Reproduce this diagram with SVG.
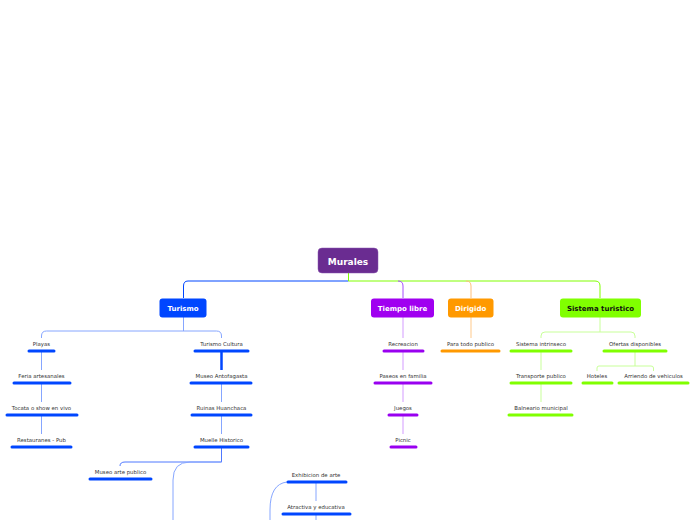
<svg xmlns="http://www.w3.org/2000/svg" width="696" height="520" viewBox="0 0 696 520">
<style>
.t{font-family:"DejaVu Sans",Verdana,sans-serif;font-size:5.4px;fill:#333;text-anchor:middle}
.m{font-family:"DejaVu Sans",Verdana,sans-serif;font-weight:bold;text-anchor:middle}
.c{fill:none;stroke-width:1}
.bar{stroke-width:3;stroke-linecap:round;fill:none}
.b{stroke:#0046ff}.p{stroke:#9900f0}.o{stroke:#ff9900}.g{stroke:#80ff00}
.lb{stroke:#86a6ff}.lp{stroke:#d39bff}.lo{stroke:#ffc98a}.lg{stroke:#c8ff99}
</style>
<rect width="696" height="520" fill="#fff"/>
<g id="connectors">
<path class="c" stroke="#0046ff" d="M348.5,281 H188 Q183.5,281 183.5,286 V298"/>
<path class="c" stroke="#80ff00" d="M348.5,273 V281 H595 Q600,281 600,286 V298"/>
<path class="c" stroke="#a64dff" d="M398,281 Q403,281 403,286 V298"/>
<path class="c" stroke="#ffc07a" d="M466,281 Q471,281 471,286 V298"/>
<path class="c lb" d="M183.5,317 V331 M41.5,338 V336 Q41.5,331 46.5,331 H216.5 Q221.5,331 221.5,336 V338"/>
<path class="c lb" d="M41.5,352 V370 M41.5,384 V402 M41.5,416 V434"/>
<path stroke="#0046ff" stroke-width="2.5" fill="none" d="M221.5,352 V370"/>
<path class="c lb" d="M221.5,384 V402 M221.5,416 V434"/>
<path class="c" stroke="#4f78ff" d="M221.5,448 V462 H125 Q120,462 120,466"/>
<path class="c lb" d="M221.5,462 H190 Q173,462 173,480 V520"/>
<path class="c lb" d="M287,482 Q270,484 270,510 V520"/>
<path class="c lb" d="M316,483 V501 M316,515 V520"/>
<path class="c lp" d="M403,317 V338 M403,352 V370 M403,384 V402 M403,416 V434"/>
<path class="c lo" d="M471,317 V338"/>
<path class="c lg" d="M600,317 V332 M541,338 V336 Q541,332 545,332 H631 Q635,332 635,336 V338"/>
<path class="c lg" d="M541,352 V370 M541,384 V402"/>
<path class="c lg" d="M635,352 V366 M597,371 V368 Q597,366 599,366 H651 Q653.5,366 653.5,368 V371"/>
</g>
<g id="root">
<rect x="318" y="248" width="60" height="25" rx="4" fill="#6a2c91" stroke="#8a55b0" stroke-width="0.5"/>
<text class="m" x="348" y="264.5" font-size="9" fill="#fff">Murales</text>
</g>
<g id="turismo">
<rect x="159.5" y="298.5" width="47" height="19" rx="3" fill="#0046ff"/>
<text class="m" x="183" y="310.5" font-size="7" fill="#fff">Turismo</text>
</g>
<g id="tiempo">
<rect x="371" y="298.5" width="63" height="19" rx="3" fill="#a000f0"/>
<text class="m" x="402.5" y="310.5" font-size="7" fill="#fff">Tiempo libre</text>
</g>
<g id="dirigido">
<rect x="448" y="298.5" width="45.5" height="19" rx="3" fill="#ff9900"/>
<text class="m" x="470.7" y="310.5" font-size="7" fill="#fff">Dirigido</text>
</g>
<g id="sistema">
<rect x="560" y="298.5" width="81" height="19" rx="3" fill="#80ff00"/>
<text class="m" x="600.5" y="310.5" font-size="7" fill="#111">Sistema turistico</text>
</g>
<g id="playas"><text class="t" x="41.5" y="346">Playas</text><path class="bar b" d="M29,351 H54"/></g>
<g id="feria"><text class="t" x="41.5" y="378">Feria artesanales</text><path class="bar b" d="M14,383 H70"/></g>
<g id="tocata"><text class="t" x="41.5" y="410">Tocata o show en vivo</text><path class="bar b" d="M7,415 H77"/></g>
<g id="restaurantes"><text class="t" x="41.5" y="442">Restauranes - Pub</text><path class="bar b" d="M12,447 H71"/></g>
<g id="cultura"><text class="t" x="221.5" y="346">Turismo Cultura</text><path class="bar b" d="M195,351 H248"/></g>
<g id="museoanto"><text class="t" x="221.5" y="378">Museo Antofagasta</text><path class="bar b" d="M191,383 H251"/></g>
<g id="ruinas"><text class="t" x="221.5" y="410">Ruinas Huanchaca</text><path class="bar b" d="M192,415 H251"/></g>
<g id="muelle"><text class="t" x="221.5" y="442">Muelle Historico</text><path class="bar b" d="M195,447 H248"/></g>
<g id="museoarte"><text class="t" x="120.5" y="474">Museo arte publico</text><path class="bar b" d="M90,479 H151"/></g>
<g id="exhibicion"><text class="t" x="316" y="477">Exhibicion de arte</text><path class="bar b" d="M288,482 H346"/></g>
<g id="atractiva"><text class="t" x="316" y="509">Atractiva y educativa</text><path class="bar b" d="M283,514 H350"/></g>
<g id="recreacion"><text class="t" x="403" y="346">Recreacion</text><path class="bar p" d="M384,351 H423"/></g>
<g id="paseos"><text class="t" x="403" y="378">Paseos en familia</text><path class="bar p" d="M375,383 H431"/></g>
<g id="juegos"><text class="t" x="403" y="410">Juegos</text><path class="bar p" d="M389,415 H417"/></g>
<g id="picnic"><text class="t" x="403" y="442">Picnic</text><path class="bar p" d="M391,447 H416"/></g>
<g id="paratodo"><text class="t" x="470.5" y="346">Para todo publico</text><path class="bar o" d="M442,351 H499"/></g>
<g id="intrinseco"><text class="t" x="541" y="346">Sistema intrinseco</text><path class="bar g" d="M511,351 H571"/></g>
<g id="transporte"><text class="t" x="541" y="378">Transporte publico</text><path class="bar g" d="M511,383 H571"/></g>
<g id="balneario"><text class="t" x="541" y="410">Balneario municipal</text><path class="bar g" d="M509,415 H572"/></g>
<g id="ofertas"><text class="t" x="635" y="346">Ofertas disponibles</text><path class="bar g" d="M604,351 H666"/></g>
<g id="hoteles"><text class="t" x="597" y="378">Hoteles</text><path class="bar g" d="M583,383 H612"/></g>
<g id="arriendo"><text class="t" x="653.5" y="378">Arriendo de vehiculos</text><path class="bar g" d="M619,383 H688"/></g>
</svg>
